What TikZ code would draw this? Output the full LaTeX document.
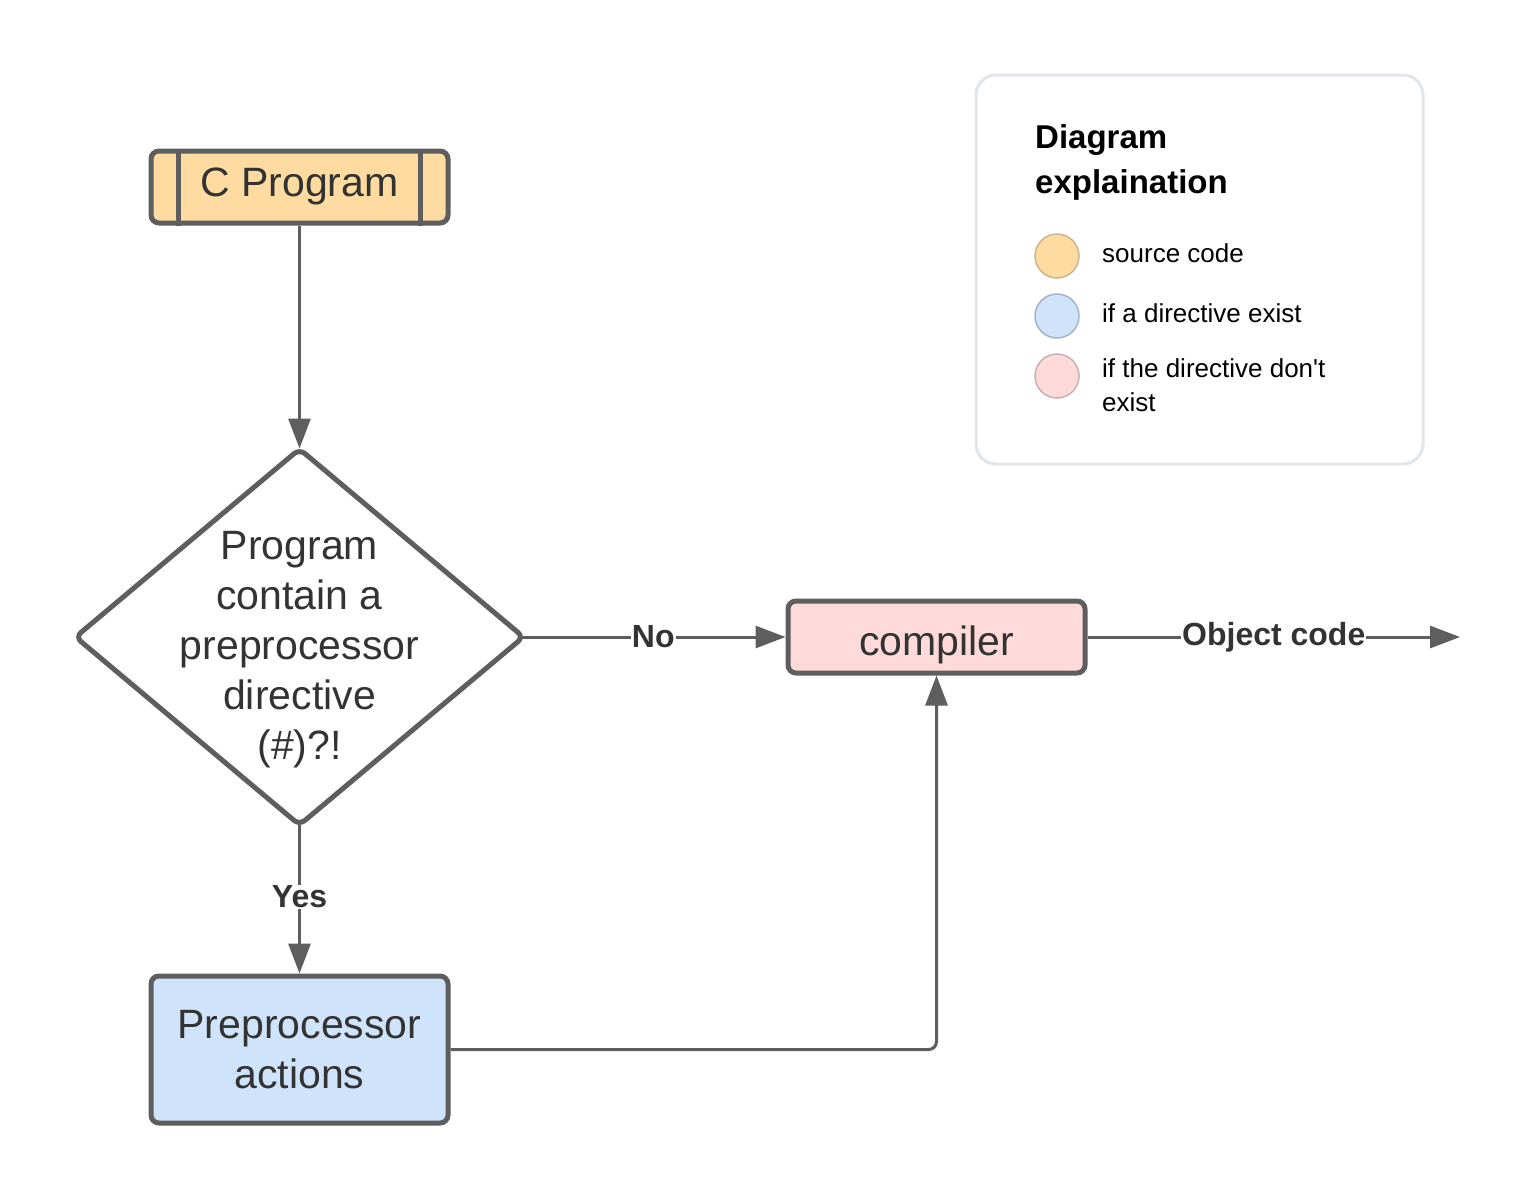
\documentclass[tikz,border=0pt]{standalone}
\usepackage{fontspec}
\setmainfont{Liberation Sans}
\usetikzlibrary{shapes.geometric,arrows.meta}
\definecolor{lineC}{HTML}{5E5E5E}
\definecolor{txtC}{HTML}{333333}
\definecolor{orangeF}{HTML}{FDDBA1}
\definecolor{blueF}{HTML}{CFE3FA}
\definecolor{pinkF}{HTML}{FFDADA}
\definecolor{legBorder}{HTML}{E2E6EB}
\definecolor{orangeS}{HTML}{CDB48C}
\definecolor{blueS}{HTML}{A3B3C8}
\definecolor{pinkS}{HTML}{C9AFAF}
\tikzset{
  box/.style={draw=lineC, line width=5pt, rounded corners=8pt, inner sep=0pt,
    text=txtC, font=\fontsize{41}{50}\selectfont, align=center},
  onebox/.style={draw=lineC, line width=5pt, rounded corners=8pt, inner sep=0pt,
    text=txtC, font=\fontsize{41}{50}\selectfont},
  decision/.style={diamond, draw=lineC, line width=5pt, rounded corners=7pt, fill=white,
    minimum width=450pt, minimum height=378pt, inner sep=0pt},
  conn/.style={draw=lineC, line width=3pt, -{Triangle[length=30pt,width=22pt]}},
  lbl/.style={fill=white, inner sep=1pt, text=txtC, font=\bfseries\fontsize{32}{38}\selectfont},
  dot/.style={circle, minimum size=44pt, inner sep=0pt, line width=1.5pt},
  legtext/.style={anchor=west, inner sep=0pt, align=left, font=\fontsize{26}{34}\selectfont, text=black},
}
\begin{document}
\begin{tikzpicture}[x=1pt,y=-1pt]
\useasboundingbox (0,0) rectangle (1536,1200);
\fill[white] (0,0) rectangle (1536,1200);

% legend
\node[draw=legBorder, line width=3pt, rounded corners=20pt, minimum width=447pt, minimum height=389pt, inner sep=0pt] (leg) at (1199.5,269.5) {};
\node[anchor=west, inner sep=0pt, align=left, font=\bfseries\fontsize{33}{45}\selectfont, text=black] (legtitle) at (1035,162) {Diagram\\explaination};
\node[dot, fill=orangeF, draw=orangeS] (d1) at (1057,256) {};
\node[dot, fill=blueF, draw=blueS] (d2) at (1057,316) {};
\node[dot, fill=pinkF, draw=pinkS] (d3) at (1057,376) {};
\node[legtext] (t1) at (1102,253) {source code};
\node[legtext] (t2) at (1102,313) {if a directive exist};
\node[legtext] (t3) at (1102,385) {if the directive don\textquotesingle t\\exist};

% C Program (predefined process)
\node[onebox, fill=orangeF, minimum width=297pt, minimum height=72pt, text height=30pt, text depth=12pt] (cprog) at (299.5,187) {C Program};
\draw[lineC, line width=5pt] ([xshift=30pt]cprog.north west) -- ([xshift=30pt]cprog.south west);
\draw[lineC, line width=5pt] ([xshift=-30pt]cprog.north east) -- ([xshift=-30pt]cprog.south east);

% decision
\node[decision] (dec) at (299.5,637) {};
\node[inner sep=0pt, align=center, text=txtC, font=\fontsize{41}{50}\selectfont] (dectext) at (299.5,650) {Program\\contain a\\preprocessor\\directive\\(\#)?!};

% compiler
\node[onebox, fill=pinkF, minimum width=297pt, minimum height=72pt, text height=36pt, text depth=0pt] (comp) at (936.5,637) {compiler};

% preprocessor actions
\node[box, fill=blueF, minimum width=297pt, minimum height=147pt] (pre) at (299.5,1049.5) {Preprocessor\\actions};

\coordinate (out) at (1460,637);

% connectors
\draw[conn, shorten >=-3pt] (cprog.south) -- (dec.north);
\draw[conn, shorten <=-5pt] (dec.east) -- node[lbl, xshift=-3pt] {No} (comp.west);
\draw[conn] (comp.east) -- node[lbl] {Object code} (out);
\draw[conn, shorten <=-5pt] (dec.south) -- node[lbl, pos=0.47] {Yes} (pre.north);
\draw[conn, rounded corners=8pt] (pre.east) -| (comp.south);
\end{tikzpicture}
\end{document}
